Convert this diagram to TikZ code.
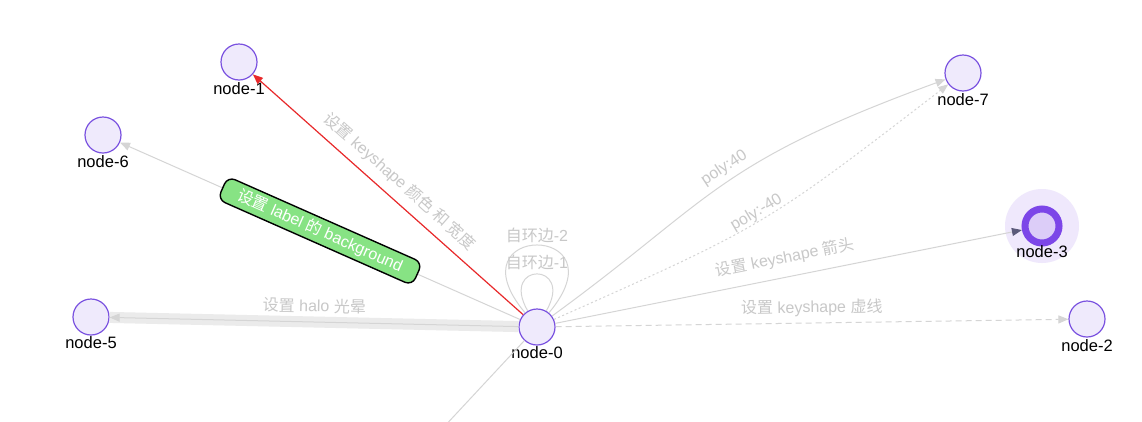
\documentclass[tikz,border=0pt]{standalone}
\usepackage{fontspec}
\setmainfont{Liberation Sans}
\newfontfamily\cjkfont{Noto Sans CJK SC}
\newcommand\zh[1]{{\cjkfont #1}}
\usetikzlibrary{arrows.meta}
\definecolor{nodefill}{RGB}{239,234,252}
\definecolor{nodedraw}{RGB}{122,82,224}
\definecolor{ringc}{RGB}{124,70,232}
\definecolor{ringfill}{RGB}{220,205,248}
\definecolor{haloc}{RGB}{239,232,252}
\definecolor{edgegray}{RGB}{213,213,213}
\definecolor{bandgray}{RGB}{235,235,235}
\definecolor{lblgray}{RGB}{200,200,200}
\definecolor{redline}{RGB}{232,41,43}
\definecolor{greenbox}{RGB}{135,227,132}
\definecolor{arrdark}{RGB}{91,90,122}
\begin{document}
\begin{tikzpicture}[x=1pt,y=-1pt,
  nd/.style={circle,draw=nodedraw,fill=nodefill,line width=1.2pt,minimum size=36pt,inner sep=0pt},
  nlbl/.style={font=\fontsize{16.5}{18}\selectfont,text=black,inner sep=0pt},
  elbl/.style={font=\fontsize{16}{18}\selectfont,text=lblgray,sloped},
  edge/.style={draw=edgegray,line width=1pt},
  arr/.style={-{Triangle[length=10pt,width=8pt]}},
  gbox/.style={draw=black,fill=greenbox,line width=1.4pt,rounded corners=8pt,text=white,
    font=\fontsize{16}{18}\selectfont,minimum height=25pt,inner xsep=17pt,inner ysep=2pt,sloped}
]
\useasboundingbox (0,0) rectangle (1142,421);
\clip (0,0) rectangle (1142,421);
\fill[white] (0,0) rectangle (1142,421);

% halo of node-3
\fill[haloc] (1042,226) circle (37);

% nodes
\node[nd] (n0) at (537,327) {};
\node[nd] (n1) at (239,62) {};
\node[nd] (n2) at (1087,319) {};
\node[circle,draw=ringc,fill=ringfill,line width=7pt,minimum size=34pt,inner sep=0pt] (n3) at (1042,226) {};
\node[nd] (n5) at (91,317) {};
\node[nd] (n6) at (103,135) {};
\node[nd] (n7) at (963,73) {};
\coordinate (c4) at (401,473);

% node labels
\node[nlbl] (t0) at (537,353) {node-0};
\node[nlbl] (t1) at (239,89) {node-1};
\node[nlbl] (t2) at (1087,346) {node-2};
\node[nlbl] (t3) at (1042,252) {node-3};
\node[nlbl] (t5) at (91,343) {node-5};
\node[nlbl] (t6) at (103,162) {node-6};
\node[nlbl] (t7) at (963,100) {node-7};

% halo band
\draw[bandgray,line width=11pt] (n0) -- (n5);
\draw[edge,arr] (n0) -- node[elbl,above=5pt] (l5) {\zh{设置} halo \zh{光晕}} (n5);

% edge to off-canvas node
\draw[edge] (n0) -- (c4);

% self loops
\draw[edge] (n0.120) .. controls +(-120:57) and +(-60:57) .. (n0.60);
\draw[edge] (n0.130) .. controls +(-130:118) and +(-50:118) .. (n0.50);
\node[font=\fontsize{16}{18}\selectfont,text=lblgray] (ll2) at (537,235) {\zh{自环边}-2};
\node[font=\fontsize{16}{18}\selectfont,text=lblgray] (ll1) at (537,262) {\zh{自环边}-1};

% node-0 -> node-6 with green label
\draw[edge,arr] (n0) -- node[gbox] (lg) {\zh{设置} label \zh{的} background} (n6);

% node-0 -> node-1 red
\draw[draw=redline,line width=1.2pt,arr] (n0) -- node[elbl,above=5pt] (l1) {\zh{设置} keyshape \zh{颜色 和 宽度}} (n1);

% poly curves to node-7
\draw[edge,arr] (n0) .. controls (714,198) and (714,164) .. node[elbl,pos=0.53,above=2pt] (lp1) {poly:40} (n7);
\draw[edge,arr,dash pattern=on 2pt off 2.5pt] (n0) .. controls (764,226) .. node[elbl,pos=0.5,above=-3pt] (lp2) {poly:-40} (n7);

% node-0 -> node-3 dark arrow
\draw[edge,-{Triangle[length=10pt,width=8pt,color=arrdark]}] (n0) -- node[elbl,above=7pt] (l3) {\zh{设置} keyshape \zh{箭头}} (n3);

% node-0 -> node-2 dashed
\draw[edge,arr,dash pattern=on 6pt off 4pt] (n0) -- node[elbl,above=3pt] (l2) {\zh{设置} keyshape \zh{虚线}} (n2);
\end{tikzpicture}
\end{document}
